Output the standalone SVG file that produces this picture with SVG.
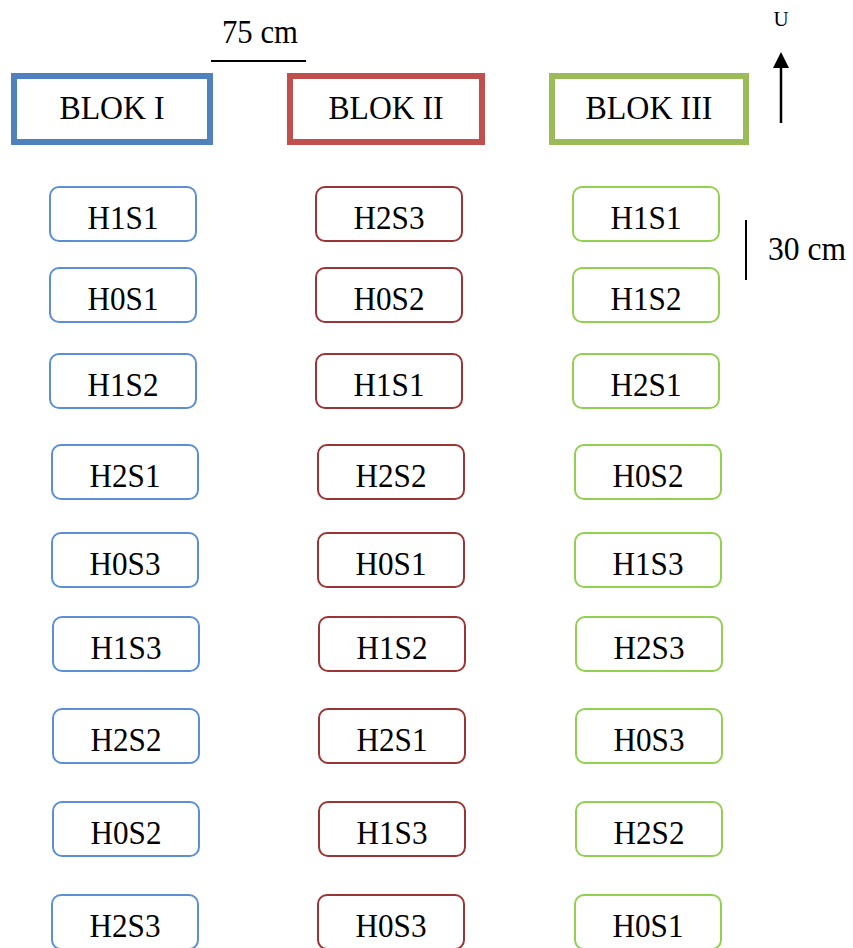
<svg xmlns="http://www.w3.org/2000/svg" width="853" height="948" viewBox="0 0 853 948">
<style>
text{font-family:"Liberation Serif","Times New Roman",serif;fill:#000;text-anchor:middle}
.lbl{font-size:33px}
.blk{fill:#fff;stroke-width:6}
.b1{stroke:#4F81BD}.b2{stroke:#C0504D}.b3{stroke:#9BBB59}
.n{fill:#fff;stroke-width:2}
.c1{stroke:#5B8FD6}.c2{stroke:#9B3434}.c3{stroke:#92D050}
.ln{stroke:#000;stroke-width:2;fill:none}
</style>
<rect width="853" height="948" fill="#fff"/>
<g id="annotations">
<line class="ln" x1="211" y1="61" x2="306" y2="61"/>
<text class="lbl" x="260" y="43" textLength="76" lengthAdjust="spacingAndGlyphs">75 cm</text>
<text x="781" y="26" style="font-size:21px">U</text>
<line x1="781" y1="66" x2="781" y2="123" stroke="#000" stroke-width="2.5"/>
<polygon points="781,52 773,68 789,68" fill="#000"/>
<line class="ln" x1="746" y1="220" x2="746" y2="280"/>
<text class="lbl" x="807" y="260" textLength="78" lengthAdjust="spacingAndGlyphs">30 cm</text>
</g>
<g id="blok1"><rect class="blk b1" x="14" y="76" width="196" height="66"/><text class="lbl" x="112" y="119" textLength="105" lengthAdjust="spacingAndGlyphs">BLOK I</text></g>
<g id="blok2"><rect class="blk b2" x="290" y="76" width="192" height="66"/><text class="lbl" x="386" y="119" textLength="115" lengthAdjust="spacingAndGlyphs">BLOK II</text></g>
<g id="blok3"><rect class="blk b3" x="552" y="76" width="194" height="66"/><text class="lbl" x="649" y="119" textLength="127" lengthAdjust="spacingAndGlyphs">BLOK III</text></g>

<g id="c1r1"><rect class="n c1" x="50" y="187" width="146" height="54" rx="9"/><text class="lbl" x="123" y="229" textLength="71" lengthAdjust="spacingAndGlyphs">H1S1</text></g>
<g id="c1r2"><rect class="n c1" x="50" y="268" width="146" height="54" rx="9"/><text class="lbl" x="123" y="310" textLength="71" lengthAdjust="spacingAndGlyphs">H0S1</text></g>
<g id="c1r3"><rect class="n c1" x="50" y="354" width="146" height="54" rx="9"/><text class="lbl" x="123" y="396" textLength="71" lengthAdjust="spacingAndGlyphs">H1S2</text></g>
<g id="c1r4"><rect class="n c1" x="52" y="445" width="146" height="54" rx="9"/><text class="lbl" x="125" y="487" textLength="71" lengthAdjust="spacingAndGlyphs">H2S1</text></g>
<g id="c1r5"><rect class="n c1" x="52" y="533" width="146" height="54" rx="9"/><text class="lbl" x="125" y="575" textLength="71" lengthAdjust="spacingAndGlyphs">H0S3</text></g>
<g id="c1r6"><rect class="n c1" x="53" y="617" width="146" height="54" rx="9"/><text class="lbl" x="126" y="659" textLength="71" lengthAdjust="spacingAndGlyphs">H1S3</text></g>
<g id="c1r7"><rect class="n c1" x="53" y="709" width="146" height="54" rx="9"/><text class="lbl" x="126" y="751" textLength="71" lengthAdjust="spacingAndGlyphs">H2S2</text></g>
<g id="c1r8"><rect class="n c1" x="53" y="802" width="146" height="54" rx="9"/><text class="lbl" x="126" y="844" textLength="71" lengthAdjust="spacingAndGlyphs">H0S2</text></g>
<g id="c1r9"><rect class="n c1" x="52" y="895" width="146" height="54" rx="9"/><text class="lbl" x="125" y="937" textLength="71" lengthAdjust="spacingAndGlyphs">H2S3</text></g>

<g id="c2r1"><rect class="n c2" x="316" y="187" width="146" height="54" rx="9"/><text class="lbl" x="389" y="229" textLength="71" lengthAdjust="spacingAndGlyphs">H2S3</text></g>
<g id="c2r2"><rect class="n c2" x="316" y="268" width="146" height="54" rx="9"/><text class="lbl" x="389" y="310" textLength="71" lengthAdjust="spacingAndGlyphs">H0S2</text></g>
<g id="c2r3"><rect class="n c2" x="316" y="354" width="146" height="54" rx="9"/><text class="lbl" x="389" y="396" textLength="71" lengthAdjust="spacingAndGlyphs">H1S1</text></g>
<g id="c2r4"><rect class="n c2" x="318" y="445" width="146" height="54" rx="9"/><text class="lbl" x="391" y="487" textLength="71" lengthAdjust="spacingAndGlyphs">H2S2</text></g>
<g id="c2r5"><rect class="n c2" x="318" y="533" width="146" height="54" rx="9"/><text class="lbl" x="391" y="575" textLength="71" lengthAdjust="spacingAndGlyphs">H0S1</text></g>
<g id="c2r6"><rect class="n c2" x="319" y="617" width="146" height="54" rx="9"/><text class="lbl" x="392" y="659" textLength="71" lengthAdjust="spacingAndGlyphs">H1S2</text></g>
<g id="c2r7"><rect class="n c2" x="319" y="709" width="146" height="54" rx="9"/><text class="lbl" x="392" y="751" textLength="71" lengthAdjust="spacingAndGlyphs">H2S1</text></g>
<g id="c2r8"><rect class="n c2" x="319" y="802" width="146" height="54" rx="9"/><text class="lbl" x="392" y="844" textLength="71" lengthAdjust="spacingAndGlyphs">H1S3</text></g>
<g id="c2r9"><rect class="n c2" x="318" y="895" width="146" height="54" rx="9"/><text class="lbl" x="391" y="937" textLength="71" lengthAdjust="spacingAndGlyphs">H0S3</text></g>

<g id="c3r1"><rect class="n c3" x="573" y="187" width="146" height="54" rx="9"/><text class="lbl" x="646" y="229" textLength="71" lengthAdjust="spacingAndGlyphs">H1S1</text></g>
<g id="c3r2"><rect class="n c3" x="573" y="268" width="146" height="54" rx="9"/><text class="lbl" x="646" y="310" textLength="71" lengthAdjust="spacingAndGlyphs">H1S2</text></g>
<g id="c3r3"><rect class="n c3" x="573" y="354" width="146" height="54" rx="9"/><text class="lbl" x="646" y="396" textLength="71" lengthAdjust="spacingAndGlyphs">H2S1</text></g>
<g id="c3r4"><rect class="n c3" x="575" y="445" width="146" height="54" rx="9"/><text class="lbl" x="648" y="487" textLength="71" lengthAdjust="spacingAndGlyphs">H0S2</text></g>
<g id="c3r5"><rect class="n c3" x="575" y="533" width="146" height="54" rx="9"/><text class="lbl" x="648" y="575" textLength="71" lengthAdjust="spacingAndGlyphs">H1S3</text></g>
<g id="c3r6"><rect class="n c3" x="576" y="617" width="146" height="54" rx="9"/><text class="lbl" x="649" y="659" textLength="71" lengthAdjust="spacingAndGlyphs">H2S3</text></g>
<g id="c3r7"><rect class="n c3" x="576" y="709" width="146" height="54" rx="9"/><text class="lbl" x="649" y="751" textLength="71" lengthAdjust="spacingAndGlyphs">H0S3</text></g>
<g id="c3r8"><rect class="n c3" x="576" y="802" width="146" height="54" rx="9"/><text class="lbl" x="649" y="844" textLength="71" lengthAdjust="spacingAndGlyphs">H2S2</text></g>
<g id="c3r9"><rect class="n c3" x="575" y="895" width="146" height="54" rx="9"/><text class="lbl" x="648" y="937" textLength="71" lengthAdjust="spacingAndGlyphs">H0S1</text></g>
</svg>
